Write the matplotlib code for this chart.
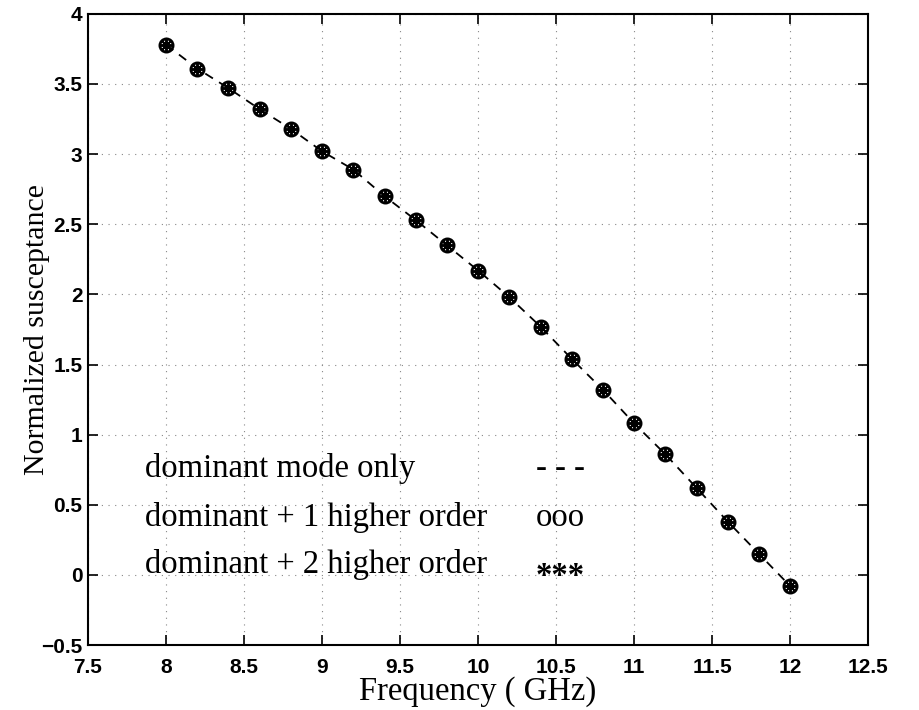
import matplotlib
matplotlib.use('agg')
from matplotlib import pyplot as plt
from matplotlib.transforms import offset_copy

# frequency points (GHz) and normalized susceptance for each model
freq = [8.0, 8.2, 8.4, 8.6, 8.8, 9.0, 9.2, 9.4, 9.6, 9.8, 10.0,
        10.2, 10.4, 10.6, 10.8, 11.0, 11.2, 11.4, 11.6, 11.8, 12.0]
b_dominant = [3.78, 3.61, 3.47, 3.32, 3.18, 3.02, 2.89, 2.70, 2.53, 2.35, 2.17,
              1.98, 1.77, 1.54, 1.32, 1.08, 0.86, 0.62, 0.38, 0.15, -0.08]
b_one_higher = [3.78, 3.61, 3.47, 3.32, 3.18, 3.02, 2.89, 2.70, 2.53, 2.35, 2.17,
                1.98, 1.77, 1.54, 1.32, 1.08, 0.86, 0.62, 0.38, 0.15, -0.08]
b_two_higher = [3.78, 3.61, 3.47, 3.32, 3.18, 3.02, 2.89, 2.70, 2.53, 2.35, 2.17,
                1.98, 1.77, 1.54, 1.32, 1.08, 0.86, 0.62, 0.38, 0.15, -0.08]

legend_text = ['dominant mode only', 'dominant + 1 higher order', 'dominant + 2 higher order']
legend_sym = ['- - -', 'ooo', '***']

xticks = [7.5, 8, 8.5, 9, 9.5, 10, 10.5, 11, 11.5, 12, 12.5]
yticks = [-0.5, 0, 0.5, 1, 1.5, 2, 2.5, 3, 3.5, 4]

fig = plt.figure(figsize=(9.2, 7.1), dpi=100)
ax = fig.add_axes([0.0957, 0.0915, 0.848, 0.889])

ax.plot(freq, b_dominant, color='black', linestyle=(0, (5, 4)), linewidth=1.3)
ax.plot(freq, b_one_higher, linestyle='none', marker='o', markersize=9.5,
        markerfacecolor='none', markeredgecolor='black', markeredgewidth=2.0)
ax.plot(freq, b_two_higher, linestyle='none', marker=(8, 2, 0), markersize=8,
        color='black', markeredgewidth=1.4)

ax.set_xlim(7.5, 12.5)
ax.set_ylim(-0.5, 4)
ax.set_xticks(xticks)
ax.set_yticks(yticks)
ax.set_xticklabels([f'{t:g}' for t in xticks])
ax.set_yticklabels([f'{t:g}'.replace('-', '\u2212') for t in yticks])
ax.grid(True, linestyle=(0, (1, 5)), color='#888888', linewidth=0.8)
ax.tick_params(direction='in', top=True, right=True, length=7, width=1.2,
               labelsize=15)
ax.tick_params(axis='x', pad=9)
ax.tick_params(axis='y', pad=4)
for lab in ax.get_xticklabels() + ax.get_yticklabels():
    lab.set_family('Liberation Sans')
    lab.set_weight('bold')
for sp in ax.spines.values():
    sp.set_linewidth(1.5)

ax.set_xlabel('Frequency ( GHz)', family='Liberation Serif', fontsize=23.5, va='center')
ax.xaxis.set_label_coords(0.5, -0.074)
ax.set_ylabel('Normalized susceptance', family='Liberation Serif', fontsize=21.5, va='center')
ax.yaxis.set_label_coords(-0.065, 0.5)

# legend drawn as plain text, as in the original figure
# (the serif asterisk sits high, so it is nudged down to the x-height)
sym_shift = [0, 0, -12]
for yv, txt, sym, dy in zip([0.70, 0.35, 0.015], legend_text, legend_sym, sym_shift):
    ax.text(7.865, yv, txt, family='Liberation Serif', fontsize=23.5, va='baseline')
    ax.text(10.37, yv, sym, family='Liberation Serif', fontsize=23.5, va='baseline',
            weight='bold' if sym == '***' else 'normal',
            transform=offset_copy(ax.transData, fig=fig, y=dy, units='dots'))

fig.savefig('out.png', dpi=100)
